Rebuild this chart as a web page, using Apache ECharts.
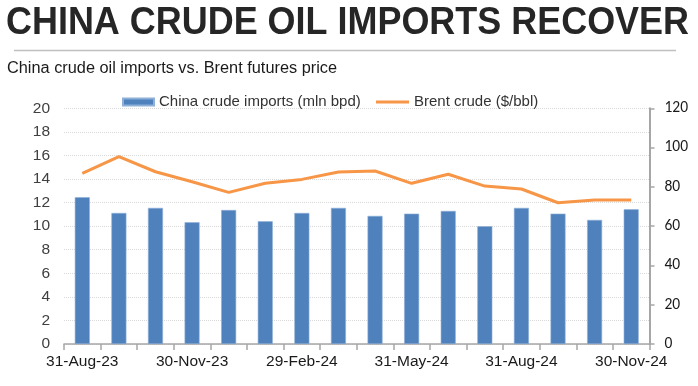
<!DOCTYPE html>
<html>
<head>
<meta charset="utf-8">
<script src="https://cdn.jsdelivr.net/npm/echarts@6/dist/echarts.min.js"></script>
<style>
html,body{margin:0;padding:0;background:#fff;}
#chart{width:698px;height:386px;}
</style>
</head>
<body>
<div id="chart"></div>
<script>
var titleText = 'CHINA CRUDE OIL IMPORTS RECOVER';
var subtitleText = 'China crude oil imports vs. Brent futures price';
var categories = ['31-Aug-23','30-Sep-23','31-Oct-23','30-Nov-23','31-Dec-23','31-Jan-24','29-Feb-24','31-Mar-24','30-Apr-24','31-May-24','30-Jun-24','31-Jul-24','31-Aug-24','30-Sep-24','31-Oct-24','30-Nov-24'];
var importsName = 'China crude imports (mln bpd)';
var importsValues = [12.45, 11.12, 11.55, 10.33, 11.37, 10.41, 11.12, 11.55, 10.87, 11.06, 11.29, 9.99, 11.55, 11.06, 10.53, 11.43];
var brentName = 'Brent crude ($/bbl)';
var brentValues = [86.9, 95.4, 87.7, 82.6, 77.2, 81.8, 83.8, 87.6, 88.1, 81.8, 86.4, 80.4, 78.9, 71.9, 73.3, 73.3];

var font = '"Liberation Sans", Arial, sans-serif';

function measure(text, f) {
  var c = document.createElement('canvas').getContext('2d');
  c.font = f;
  return c.measureText(text).width;
}
var titleSize = 38;
var titleW = measure(titleText, 'bold ' + titleSize + 'px ' + font);
var titleScale = 683 / titleW;
var subSize = 16;
var subW = measure(subtitleText, subSize + 'px ' + font);
var subScale = 330 / subW;

var chart = echarts.init(document.getElementById('chart'), null, {renderer: 'canvas'});
var option = {
  animation: false,
  textStyle: {fontFamily: font},
  graphic: [
    {type: 'text', x: 6, y: 4.5, scaleX: titleScale, style: {text: titleText, font: 'bold ' + titleSize + 'px ' + font, fill: '#262626', textVerticalAlign: 'top'}},
    {type: 'line', shape: {x1: 14, y1: 50.5, x2: 676, y2: 50.5}, style: {stroke: '#bfbfbf', lineWidth: 1.5}},
    {type: 'text', x: 7, y: 60.5, scaleX: subScale, style: {text: subtitleText, font: subSize + 'px ' + font, fill: '#1a1a1a', textVerticalAlign: 'top'}}
  ],
  legend: [
    {
      left: 122, top: 94.5, padding: 0,
      itemWidth: 31, itemHeight: 7,
      textStyle: {fontSize: 15, color: '#333333', fontFamily: font},
      data: [{name: importsName, icon: 'rect'}]
    },
    {
      left: 376, top: 94.5, padding: 0,
      itemWidth: 33, itemHeight: 3,
      textStyle: {fontSize: 15, color: '#333333', fontFamily: font},
      data: [{name: brentName, icon: 'rect'}]
    }
  ],
  grid: {left: 64, right: 48.5, top: 108.3, bottom: 42, containLabel: false},
  xAxis: {
    type: 'category',
    data: categories,
    boundaryGap: true,
    axisLine: {show: true, lineStyle: {color: '#a6a6a6', width: 1.5}},
    axisTick: {show: true, interval: 0, length: 6, lineStyle: {color: '#a6a6a6', width: 1.5}},
    axisLabel: {interval: 2, fontSize: 15.5, color: '#1a1a1a', margin: 10, fontFamily: font}
  },
  yAxis: [
    {
      type: 'value', min: 0, max: 20, interval: 2,
      axisLine: {show: false}, axisTick: {show: false},
      splitLine: {show: true, lineStyle: {color: '#d9d9d9', type: 'dotted', width: 1}},
      axisLabel: {fontSize: 15.5, color: '#404040', margin: 14, fontFamily: font}
    },
    {
      type: 'value', min: 0, max: 120, interval: 20, position: 'right',
      axisLine: {show: true, lineStyle: {color: '#a6a6a6', width: 2}},
      axisTick: {show: true, inside: false, length: 5, lineStyle: {color: '#a6a6a6', width: 1.5}},
      splitLine: {show: false},
      axisLabel: {fontSize: 15.5, color: '#1a1a1a', margin: 15, fontFamily: '"Carlito", "Liberation Sans", sans-serif'}
    }
  ],
  series: [
    {
      name: importsName, type: 'bar', yAxisIndex: 0,
      data: importsValues, barWidth: 15,
      itemStyle: {color: '#4f81bd', borderColor: '#8fb0d8', borderWidth: 0.6}
    },
    {
      name: brentName, type: 'line', yAxisIndex: 1,
      data: brentValues, symbol: 'none', smooth: false,
      lineStyle: {color: '#f79646', width: 3},
      itemStyle: {color: '#f79646'}
    }
  ]
};
chart.setOption(option);
</script>
</body>
</html>
